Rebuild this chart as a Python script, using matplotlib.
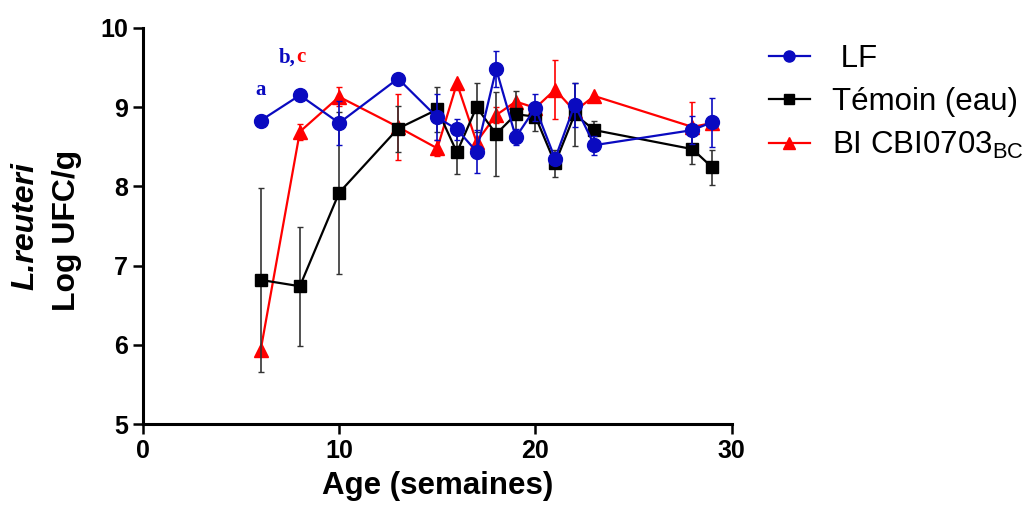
import numpy as np
import matplotlib
matplotlib.use("Agg")
import matplotlib.pyplot as plt
from matplotlib.lines import Line2D

plt.rcParams['font.family'] = ['Liberation Sans', 'DejaVu Sans']
plt.rcParams['mathtext.fontset'] = 'custom'
plt.rcParams['mathtext.rm'] = 'Liberation Sans'

# weeks
weeks_lf = [6, 8, 10, 13, 15, 16, 17, 18, 19, 20, 21, 22, 23, 28, 29]
lf = [8.83, 9.15, 8.80, 9.36, 8.87, 8.72, 8.44, 9.48, 8.62, 8.99, 8.35, 9.03, 8.52, 8.71, 8.81]
lf_err = [0.0, 0.0, 0.28, 0.0, 0.29, 0.13, 0.27, 0.23, 0.10, 0.17, 0.05, 0.28, 0.12, 0.18, 0.31]

weeks_tem = [6, 8, 10, 13, 15, 16, 17, 18, 19, 20, 21, 22, 23, 28, 29]
temoin = [6.82, 6.74, 7.92, 8.73, 8.97, 8.43, 9.00, 8.66, 8.91, 8.88, 8.29, 8.91, 8.71, 8.47, 8.24]
temoin_err = [1.16, 0.75, 1.02, 0.29, 0.28, 0.27, 0.31, 0.53, 0.29, 0.18, 0.17, 0.40, 0.11, 0.19, 0.22]

weeks_bi = [6, 8, 10, 13, 15, 16, 17, 18, 19, 20, 21, 22, 23, 28, 29]
bi = [5.93, 8.69, 9.13, 8.75, 8.48, 9.30, 8.56, 8.90, 9.07, 8.99, 9.22, 8.95, 9.14, 8.75, 8.80]
bi_err = [0.0, 0.10, 0.12, 0.42, 0.10, 0.0, 0.0, 0.10, 0.0, 0.0, 0.37, 0.0, 0.0, 0.31, 0.0]

labels = [' LF', 'Témoin (eau)', r'BI CBI0703$_{\mathregular{BC}}$']

blue = '#0a0ac0'
red = '#ff0000'

fig = plt.figure(figsize=(10.35, 5.16), dpi=100)
ax = fig.add_axes([0.138, 0.178, 0.569, 0.768])

ax.errorbar(weeks_bi, bi, yerr=bi_err, color=red, marker='^', ms=10, lw=1.6,
            elinewidth=1.2, capsize=2.5, zorder=2)
ax.errorbar(weeks_tem, temoin, yerr=temoin_err, color='black', marker='s', ms=9, lw=1.6,
            elinewidth=1.2, ecolor='#333333', capsize=2.5, zorder=3)
ax.errorbar(weeks_lf, lf, yerr=lf_err, color=blue, marker='o', ms=10, lw=1.6,
            elinewidth=1.2, capsize=2.5, zorder=4)

ax.set_xlim(0, 30)
ax.set_ylim(5, 10)
ax.set_xticks([0, 10, 20, 30])
ax.set_yticks([5, 6, 7, 8, 9, 10])
for s in ['top', 'right']:
    ax.spines[s].set_visible(False)
for s in ['left', 'bottom']:
    ax.spines[s].set_linewidth(2.2)
ax.tick_params(direction='out', length=7, width=1.8, labelsize=18)
for lab in ax.get_xticklabels() + ax.get_yticklabels():
    lab.set_fontweight('bold')
ax.set_xlabel('Age (semaines)', fontsize=22.5, fontweight='bold', labelpad=6)

fig.text(0.025, 0.562, 'L.reuteri', rotation=90, fontsize=23, fontweight='bold',
         fontstyle='italic', ha='center', va='center')
fig.text(0.065, 0.554, 'Log UFC/g', rotation=90, fontsize=23, fontweight='bold',
         ha='center', va='center')

# significance letters
ax.text(6, 9.22, 'a', color=blue, fontsize=15, fontweight='bold',
        family='Liberation Serif', ha='center', va='center')
ax.text(7.8, 9.63, 'b,', color=blue, fontsize=15, fontweight='bold',
        family='Liberation Serif', ha='right', va='center')
ax.text(7.8, 9.63, 'c', color=red, fontsize=15, fontweight='bold',
        family='Liberation Serif', ha='left', va='center')

handles = [Line2D([], [], color=blue, marker='o', ms=8, lw=1.6),
           Line2D([], [], color='black', marker='s', ms=7, lw=1.6),
           Line2D([], [], color=red, marker='^', ms=8, lw=1.6)]
fig.legend(handles, labels, loc='upper left', bbox_to_anchor=(0.716, 0.97),
           frameon=False, fontsize=22.5, handlelength=1.3, labelspacing=0.42,
           handletextpad=0.7)

fig.savefig('out.png', dpi=100)
